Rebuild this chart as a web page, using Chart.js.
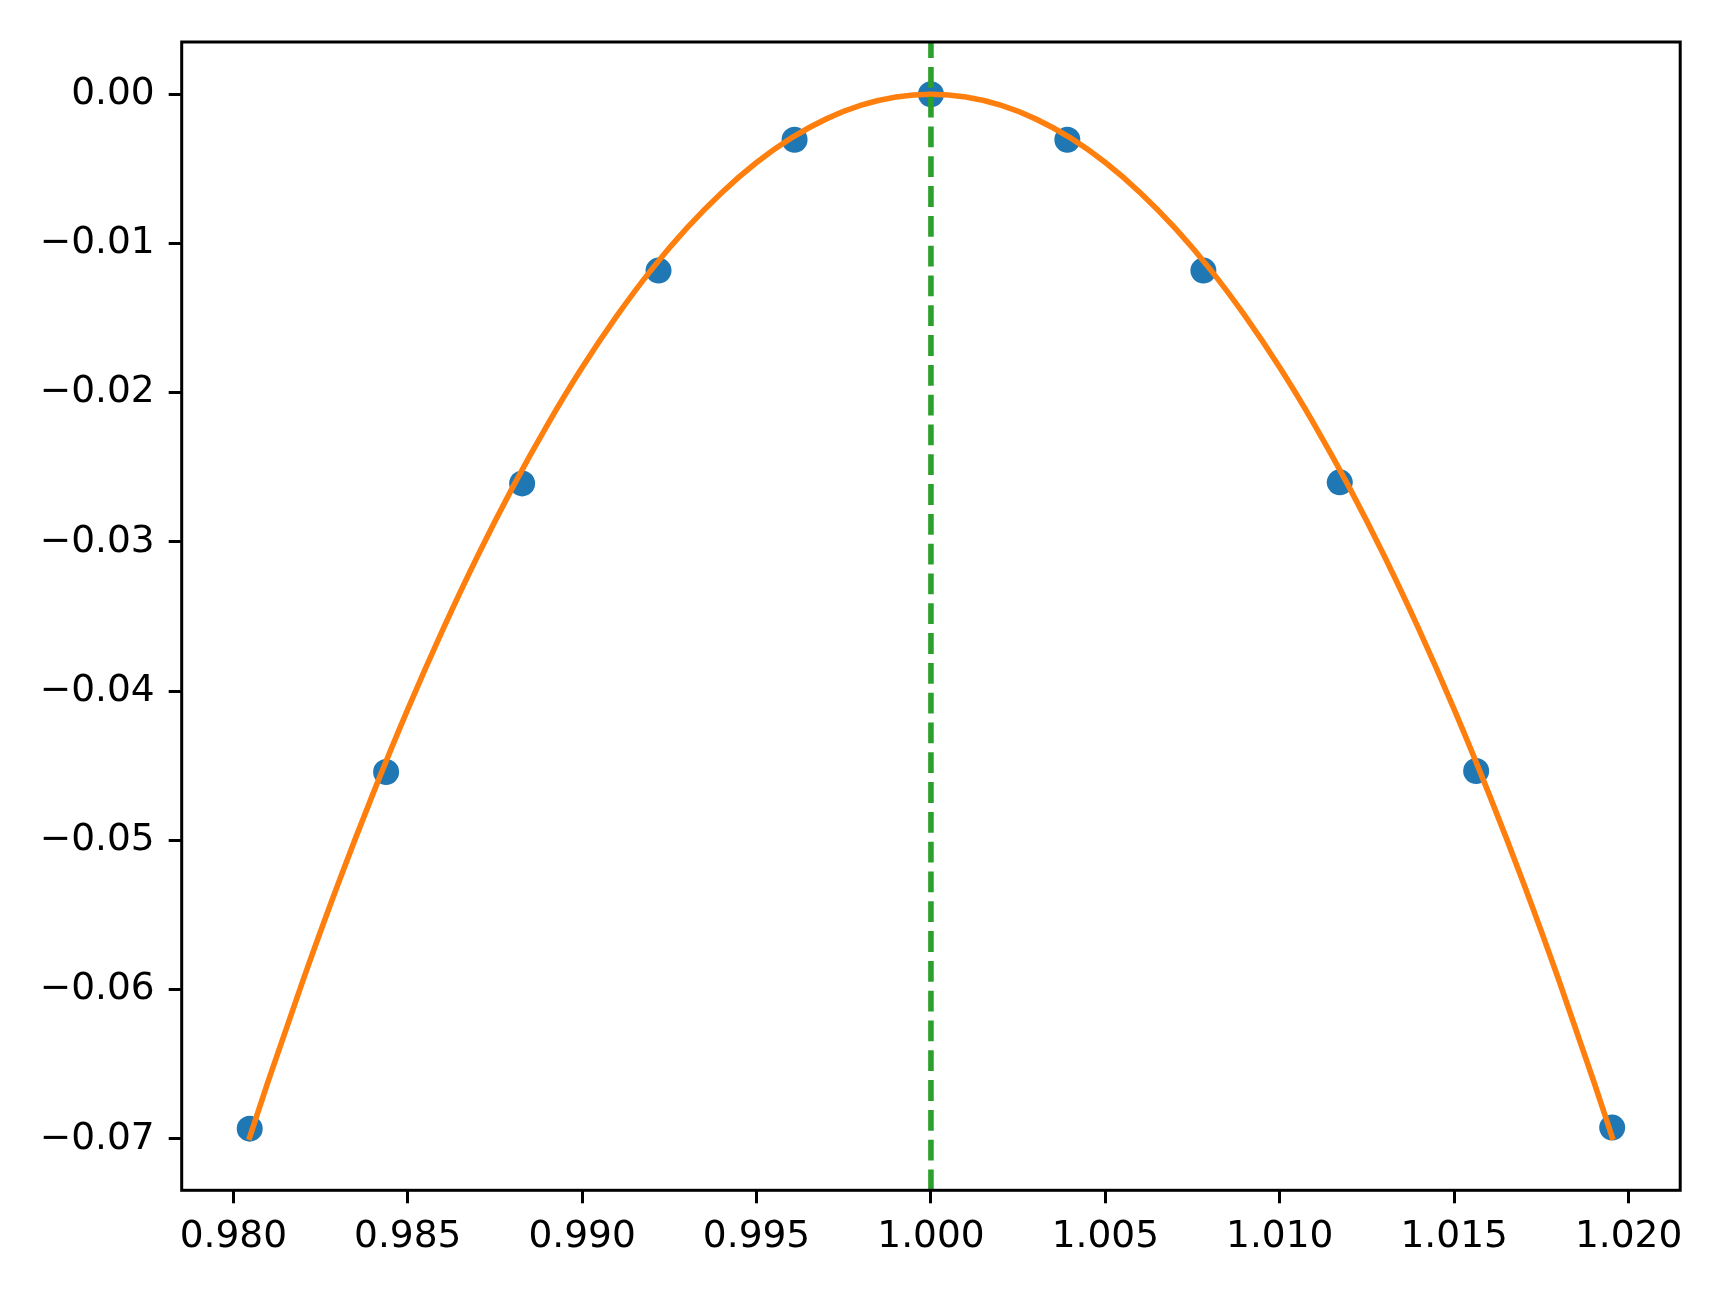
<!DOCTYPE html>
<html>
<head>
<meta charset="utf-8">
<script src="https://cdn.jsdelivr.net/npm/chart.js@4/dist/chart.umd.min.js"></script>
<style>
html,body{margin:0;padding:0;background:#fff;}
#wrap{width:1728px;height:1296px;}
</style>
</head>
<body>
<div id="wrap"><canvas id="c" width="1728" height="1296"></canvas></div>
<script>
// ---- data ----
const sampleX = [0.98047, 0.98438, 0.98828, 0.99219, 0.99609, 1.00000, 1.00391, 1.00781, 1.01172, 1.01563, 1.01953];
const sampleY = [-0.06932, -0.04542, -0.02608, -0.01182, -0.00305, 0.00000, -0.00305, -0.01182, -0.02601, -0.04535, -0.06925];

const fitX = [0.98047, 0.981, 0.982, 0.983, 0.984, 0.985, 0.986, 0.987, 0.988, 0.989, 0.990,
              0.991, 0.992, 0.993, 0.994, 0.995, 0.996, 0.997, 0.998, 0.999, 1.000,
              1.001, 1.002, 1.003, 1.004, 1.005, 1.006, 1.007, 1.008, 1.009, 1.010,
              1.011, 1.012, 1.013, 1.014, 1.015, 1.016, 1.017, 1.018, 1.019, 1.01953];
const fitY = [-0.06989, -0.06614, -0.05936, -0.05294, -0.04690, -0.04122, -0.03591, -0.03096, -0.02638, -0.02217, -0.01832,
              -0.01484, -0.01172, -0.00898, -0.00660, -0.00458, -0.00293, -0.00165, -0.00073, -0.00018, 0.00000,
              -0.00018, -0.00073, -0.00165, -0.00293, -0.00458, -0.00660, -0.00898, -0.01172, -0.01484, -0.01832,
              -0.02217, -0.02638, -0.03096, -0.03591, -0.04122, -0.04690, -0.05294, -0.05936, -0.06614, -0.06989];

const xRange = [0.97852, 1.02148];
const yRange = [-0.07345, 0.00350];

const peakX = [1.0, 1.0];
const peakY = [yRange[0], yRange[1]];

const xTicks = [0.980, 0.985, 0.990, 0.995, 1.000, 1.005, 1.010, 1.015, 1.020];
const xTickLabels = ['0.980', '0.985', '0.990', '0.995', '1.000', '1.005', '1.010', '1.015', '1.020'];
const yTicks = [-0.07, -0.06, -0.05, -0.04, -0.03, -0.02, -0.01, 0.00];
const yTickLabels = ['\u22120.07', '\u22120.06', '\u22120.05', '\u22120.04', '\u22120.03', '\u22120.02', '\u22120.01', '0.00'];

// ---- chart ----
const FONT = {family: 'DejaVu Sans', size: 37.5};
const framePlugin = {
  id: 'frame',
  afterDraw(chart) {
    const a = chart.chartArea, ctx = chart.ctx;
    ctx.save();
    ctx.strokeStyle = '#000';
    ctx.lineWidth = 3;
    ctx.lineJoin = 'miter';
    ctx.strokeRect(a.left, a.top, a.right - a.left, a.bottom - a.top);
    ctx.restore();
  }
};

const toPts = (xs, ys) => xs.map((x, i) => ({x: x, y: ys[i]}));

new Chart(document.getElementById('c'), {
  type: 'scatter',
  data: {
    datasets: [
      {
        label: 'peak',
        data: toPts(peakX, peakY),
        showLine: true,
        borderColor: '#2ca02c',
        borderWidth: 5.6,
        borderDash: [20.8, 9],
        borderCapStyle: 'butt',
        pointRadius: 0,
        pointHoverRadius: 0
      },
      {
        label: 'fit',
        data: toPts(fitX, fitY),
        showLine: true,
        borderColor: '#ff7f0e',
        borderWidth: 5.6,
        cubicInterpolationMode: 'monotone',
        borderCapStyle: 'square',
        borderJoinStyle: 'round',
        pointRadius: 0,
        pointHoverRadius: 0
      },
      {
        label: 'samples',
        data: toPts(sampleX, sampleY),
        showLine: false,
        backgroundColor: '#1f77b4',
        borderColor: '#1f77b4',
        borderWidth: 0,
        pointRadius: 13,
        pointHoverRadius: 13
      }
    ]
  },
  options: {
    responsive: false,
    animation: false,
    devicePixelRatio: 1,
    events: [],
    layout: {padding: {top: 42, right: 47.8, left: 0, bottom: 0}},
    plugins: {legend: {display: false}, tooltip: {enabled: false}},
    scales: {
      x: {
        type: 'linear',
        position: 'bottom',
        min: xRange[0],
        max: xRange[1],
        afterBuildTicks: s => { s.ticks = xTicks.map(v => ({value: v})); },
        afterFit: s => { s.height = 105.7; },
        grid: {display: true, drawOnChartArea: false, drawTicks: true, tickLength: 13, tickWidth: 3, tickColor: '#000', color: '#000', lineWidth: 3},
        border: {display: false},
        ticks: {font: FONT, color: '#000', padding: 11, autoSkip: false, maxRotation: 0, minRotation: 0,
                callback: (v, i) => xTickLabels[i]}
      },
      y: {
        type: 'linear',
        position: 'left',
        min: yRange[0],
        max: yRange[1],
        afterBuildTicks: s => { s.ticks = yTicks.map(v => ({value: v})); },
        afterFit: s => { s.width = 181.7; },
        grid: {display: true, drawOnChartArea: false, drawTicks: true, tickLength: 13, tickWidth: 3, tickColor: '#000', color: '#000', lineWidth: 3},
        border: {display: false},
        ticks: {font: FONT, color: '#000', padding: 14, autoSkip: false,
                callback: (v, i) => yTickLabels[i]}
      }
    }
  },
  plugins: [framePlugin]
});
</script>
</body>
</html>
